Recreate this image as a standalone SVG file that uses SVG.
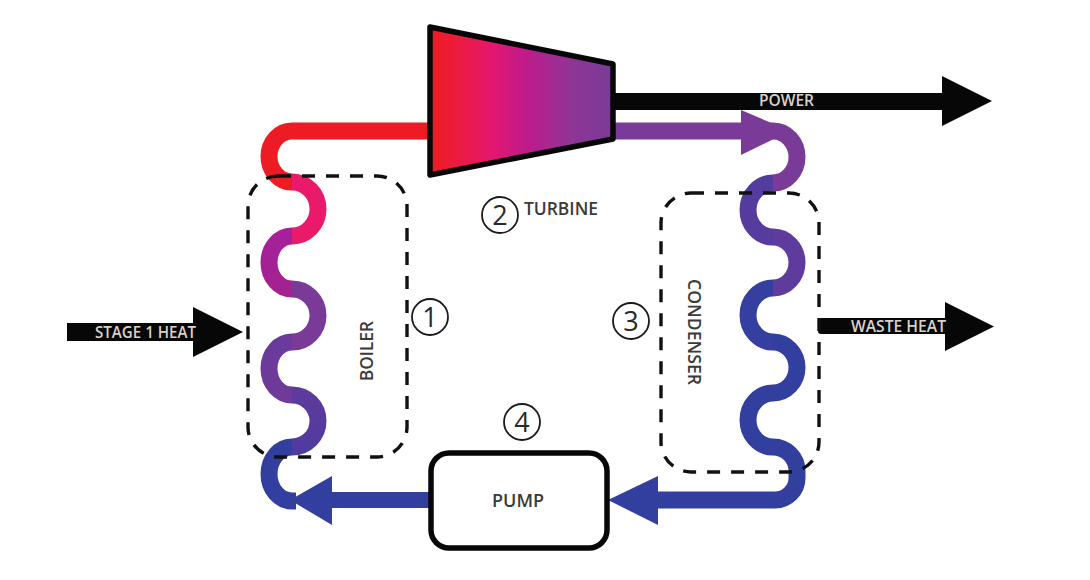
<svg xmlns="http://www.w3.org/2000/svg" width="1090" height="580" viewBox="0 0 1090 580">
<style>
.tube{fill:none;stroke-width:17}
.dash{fill:none;stroke:#111;stroke-width:3.400;stroke-dasharray:13 11}
.blk{fill:#070707}
.lab{font-family:"Open Sans","Liberation Sans",sans-serif;font-size:17.500px;font-weight:600;fill:#3a3a3a}
.onblk{font-family:"Open Sans","Liberation Sans",sans-serif;font-size:15.500px;font-weight:600;fill:#d9d2ca}
.ring{fill:#fff;stroke:#1a1a1a;stroke-width:1.8}
.num{font-family:"Open Sans","Liberation Sans",sans-serif;font-size:27px;fill:#2a2a2a;text-anchor:middle}
</style>
<defs>
<linearGradient id="gt" gradientUnits="userSpaceOnUse" x1="433" y1="0" x2="611" y2="0">
<stop offset="0" stop-color="#ed1c24"/><stop offset=".13" stop-color="#ec1c3c"/><stop offset=".33" stop-color="#e5176f"/><stop offset=".52" stop-color="#bf1a8b"/><stop offset=".78" stop-color="#8f3596"/><stop offset="1" stop-color="#7a3b98"/>
</linearGradient>
<linearGradient id="l3" gradientUnits="userSpaceOnUse" x1="0" y1="236" x2="0" y2="289"><stop offset="0" stop-color="#a5209a"/><stop offset="1" stop-color="#a32290"/></linearGradient>
<linearGradient id="l5" gradientUnits="userSpaceOnUse" x1="0" y1="342" x2="0" y2="395"><stop offset="0" stop-color="#6a3a9c"/><stop offset="1" stop-color="#6f3a9a"/></linearGradient>
<linearGradient id="l6" gradientUnits="userSpaceOnUse" x1="0" y1="395" x2="0" y2="447"><stop offset="0" stop-color="#5c3b9c"/><stop offset="1" stop-color="#503c9e"/></linearGradient>
<linearGradient id="r2" gradientUnits="userSpaceOnUse" x1="0" y1="183" x2="0" y2="237"><stop offset="0" stop-color="#523c9e"/><stop offset="1" stop-color="#583b9f"/></linearGradient>
</defs>
<g id="connectors">
<path class="tube" stroke="#ed1c24" d="M432 131H292A23 25.500 0 0 0 292 182"/>
<path class="tube" stroke="#ea1a6b" d="M292 182A26 27 0 0 1 292 236"/>
<path class="tube" stroke="url(#l3)" d="M292 236A23 26.500 0 0 0 292 289"/>
<path class="tube" stroke="#7a3a98" d="M292 289A26 26.500 0 0 1 292 342"/>
<path class="tube" stroke="url(#l5)" d="M292 342A23 26.500 0 0 0 292 395"/>
<path class="tube" stroke="url(#l6)" d="M292 395A26 26 0 0 1 292 447"/>
<path class="tube" stroke="#333f9f" d="M292 447A23 27 0 0 0 292 501H296"/>
<path fill="#333f9f" d="M432 492H332V476L290 500L332 525V508H432Z"/>
<path class="tube" stroke="#7a3b98" d="M611 131H773A24 26 0 0 1 773 183"/>
<path fill="#7a3b98" d="M741 110L790 131L741 155Z"/>
<path class="tube" stroke="url(#r2)" d="M773 183A25 27 0 0 0 773 237"/>
<path class="tube" stroke="#5f3b9e" d="M773 237A24 25.500 0 0 1 773 288"/>
<path class="tube" stroke="#353f9f" d="M773 288A25 27 0 0 0 773 342"/>
<path class="tube" stroke="#333f9f" d="M773 342A24 25.500 0 0 1 773 393"/>
<path class="tube" stroke="#333f9f" d="M773 393A25 27 0 0 0 773 447A24 24 0 0 1 797 471V478A22 22 0 0 1 775 500H650"/>
<path fill="#333f9f" d="M658 476L608 500L658 525Z"/>
<path class="blk" d="M67 323H193V307L243 332L193 357V341H67Z"/>
<path class="blk" d="M613 93H942V76L992 101L942 126V110H613Z"/>
<path class="blk" d="M821 318H945V302L994 326.500L945 351V334H821Q818 334 818 331V321Q818 318 821 318Z"/>
</g>
<g id="boiler">
<rect class="dash" x="248" y="176" width="159" height="281" rx="30" ry="30"/>
<text class="lab" transform="translate(373 381) rotate(-90)" textLength="60" lengthAdjust="spacingAndGlyphs">BOILER</text>
<circle class="ring" cx="430" cy="317" r="18"/>
<text class="num" x="430" y="327">1</text>
</g>
<g id="turbine">
<path d="M430 27L613 64V139L430 175Z" fill="url(#gt)" stroke="#070707" stroke-width="5.500" stroke-linejoin="round"/>
<circle class="ring" cx="500" cy="215" r="18"/>
<text class="num" x="500" y="225">2</text>
<text class="lab" x="524" y="215" textLength="74" lengthAdjust="spacingAndGlyphs">TURBINE</text>
</g>
<g id="condenser">
<rect class="dash" x="661" y="193" width="158" height="279" rx="30" ry="30"/>
<text class="lab" transform="translate(688 279) rotate(90)" textLength="106" lengthAdjust="spacingAndGlyphs">CONDENSER</text>
<circle class="ring" cx="631" cy="321" r="18"/>
<text class="num" x="631" y="331">3</text>
</g>
<g id="pump">
<rect x="431" y="453" width="176" height="95" rx="18" ry="18" fill="#fff" stroke="#070707" stroke-width="5.500"/>
<text class="lab" x="492" y="507" textLength="52" lengthAdjust="spacingAndGlyphs">PUMP</text>
<circle class="ring" cx="522" cy="422" r="18"/>
<text class="num" x="522" y="432">4</text>
</g>
<g id="power"><text class="onblk" x="759" y="106" textLength="55" lengthAdjust="spacingAndGlyphs">POWER</text></g>
<g id="stage-heat"><text class="onblk" x="95" y="338" textLength="101" lengthAdjust="spacingAndGlyphs">STAGE 1 HEAT</text></g>
<g id="waste-heat"><text class="onblk" x="851" y="332" textLength="95" lengthAdjust="spacingAndGlyphs">WASTE HEAT</text></g>
</svg>
